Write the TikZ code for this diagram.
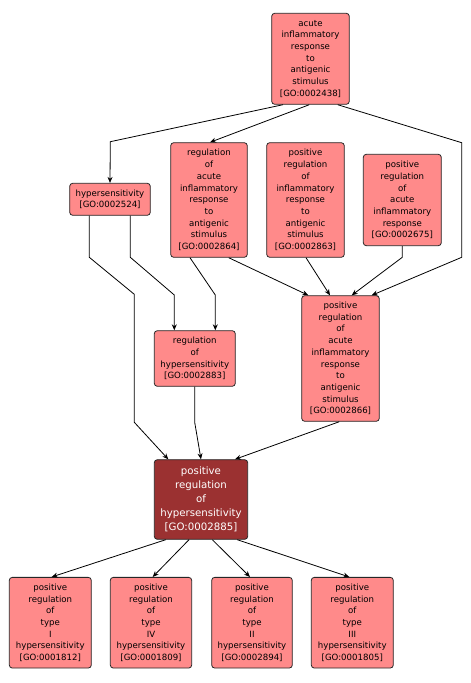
\documentclass[tikz,border=0pt]{standalone}
\usepackage{fontspec}
\setmainfont{DejaVu Sans}
\usetikzlibrary{arrows.meta}
\definecolor{termfill}{HTML}{FF8A8A}
\definecolor{focusfill}{HTML}{9B3131}

\begin{document}
\begin{tikzpicture}[x=1pt,y=-1pt,
    term/.style={draw=black!85,line width=0.8pt,rounded corners=3pt,fill=termfill,
                 inner sep=0pt,align=center,font=\fontsize{8.6}{11.7}\selectfont},
    focus/.style={term,fill=focusfill,text=white,font=\fontsize{10.2}{13.9}\selectfont},
    link/.style={draw=black,line width=0.8pt,-{Stealth[length=6pt,width=5pt]}}]
\useasboundingbox (0,0) rectangle (471,683);

\begin{scope}[every node/.style={term}]
    \node[minimum width=77.6,minimum height=91]    (n2438) at (310.5,58.8)
        {acute\\inflammatory\\response\\to\\antigenic\\stimulus\\{[GO:0002438]}};
    \node[minimum width=80.6,minimum height=32]    (n2524) at (110,199.3)
        {hypersensitivity\\{[GO:0002524]}};
    \node[minimum width=76.6,minimum height=114.6] (n2864) at (209,200)
        {regulation\\of\\acute\\inflammatory\\response\\to\\antigenic\\stimulus\\{[GO:0002864]}};
    \node[minimum width=77.6,minimum height=114.6] (n2863) at (305.5,200)
        {positive\\regulation\\of\\inflammatory\\response\\to\\antigenic\\stimulus\\{[GO:0002863]}};
    \node[minimum width=78,minimum height=91.4]    (n2675) at (402.3,200)
        {positive\\regulation\\of\\acute\\inflammatory\\response\\{[GO:0002675]}};
    \node[minimum width=81,minimum height=55.6]    (n2883) at (194.8,358.5)
        {regulation\\of\\hypersensitivity\\{[GO:0002883]}};
    \node[minimum width=77.6,minimum height=125.6] (n2866) at (340.5,358.5)
        {positive\\regulation\\of\\acute\\inflammatory\\response\\to\\antigenic\\stimulus\\{[GO:0002866]}};
    \node[focus,minimum width=93.4,minimum height=79.6] (n2885) at (201,499.5)
        {positive\\regulation\\of\\hypersensitivity\\{[GO:0002885]}};
    \node[minimum width=82,minimum height=90.7]    (n1812) at (50.3,622.7)
        {positive\\regulation\\of\\type\\I\\hypersensitivity\\{[GO:0001812]}};
    \node[minimum width=81.4,minimum height=90.7]  (n1809) at (151,622.7)
        {positive\\regulation\\of\\type\\IV\\hypersensitivity\\{[GO:0001809]}};
    \node[minimum width=80.6,minimum height=90.7]  (n2894) at (252,622.7)
        {positive\\regulation\\of\\type\\II\\hypersensitivity\\{[GO:0002894]}};
    \node[minimum width=82,minimum height=90.7]    (n1805) at (352.3,622.7)
        {positive\\regulation\\of\\type\\III\\hypersensitivity\\{[GO:0001805]}};
\end{scope}

% links into the upper terms
\draw[link] ([xshift=-27.5]n2438.south) -- (110.3,141.7) -- (n2524.north);
\draw[link] ([xshift=-1.2]n2438.south) -- ([xshift=1]n2864.north);
\draw[link] ([xshift=27.2]n2438.south) -- (461.7,142.7) -- (461.7,257.3) -- ([xshift=31.2]n2866.north);
\draw[link] ([xshift=20.3]n2524.south) -- (130.3,257.3) -- (174.3,295) -- ([xshift=-20.5]n2883.north);
\draw[link] ([xshift=-20.7]n2524.south) -- (89.3,257.3) -- (134.3,294.3) -- (134.3,422.3) -- ([xshift=-32.7]n2885.north);
\draw[link] ([xshift=-19]n2864.south) -- (215.3,295) -- ([xshift=20.5]n2883.north);
\draw[link] ([xshift=19.7]n2864.south) -- ([xshift=-32.2]n2866.north);
\draw[link] ([xshift=0.5]n2863.south) -- ([xshift=-10.5]n2866.north);
\draw[link] (n2675.south) -- (402.3,257.3) -- ([xshift=11.2]n2866.north);
\draw[link] (n2883.south) -- (194.7,422.3) -- (n2885.north);
\draw[link] ([xshift=-1.2]n2866.south) -- ([xshift=34]n2885.north);

% links out of the focus term
\draw[link] ([xshift=-35.3]n2885.south) -- ([xshift=1.4]n1812.north);
\draw[link] ([xshift=-12]n2885.south) -- ([xshift=1.7]n1809.north);
\draw[link] ([xshift=11.3]n2885.south) -- ([xshift=-2]n2894.north);
\draw[link] ([xshift=36.3]n2885.south) -- ([xshift=-3]n1805.north);
\end{tikzpicture}
\end{document}
